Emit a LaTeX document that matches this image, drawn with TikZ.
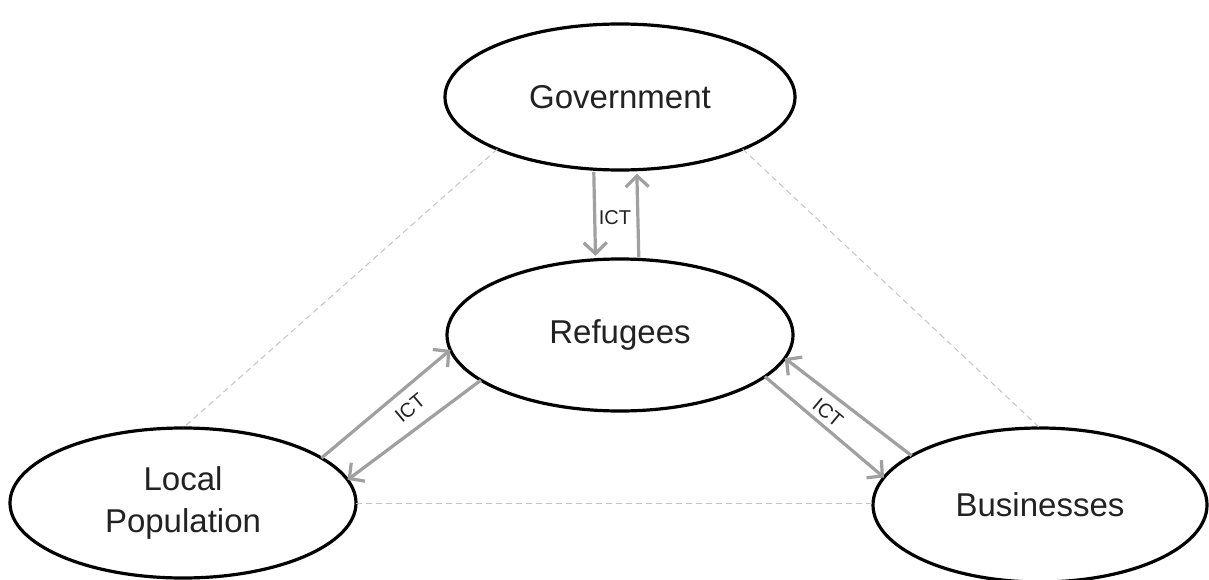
\documentclass[tikz,border=0pt]{standalone}
\usepackage{fontspec}
\setmainfont{Liberation Sans}
\usetikzlibrary{shapes.geometric,arrows.meta}
\definecolor{arrgray}{HTML}{A0A0A0}
\definecolor{dashgray}{HTML}{C4C4C4}
\definecolor{txt}{HTML}{222222}
\begin{document}
\begin{tikzpicture}[x=1pt,y=1pt,
  actor/.style={ellipse, draw=black, line width=3.2pt, inner sep=0pt, outer sep=0pt,
     text=txt, font=\fontsize{33}{42}\selectfont, align=center},
  ictarrow/.style={draw=arrgray, line width=3.2pt, -{Straight Barb[length=11pt,width=23pt]}},
  tri/.style={draw=dashgray, line width=1pt, dash pattern=on 6pt off 4pt},
  ictlabel/.style={text=txt, font=\fontsize{20}{24}\selectfont, inner sep=0pt}]
\useasboundingbox (0,0) rectangle (1209,579);
\fill[white] (0,0) rectangle (1209,579);

\node[actor, minimum width=350pt, minimum height=146pt] (gov) at (620,482) {Government};
\node[actor, minimum width=346pt, minimum height=152pt] (ref) at (620,244) {Refugees};
\node[actor, minimum width=346pt, minimum height=150pt] (loc) at (183,76) {Local\\Population};
\node[actor, minimum width=334pt, minimum height=154pt] (bus) at (1040,74) {Businesses};

% dashed triangle
\draw[tri] (gov.203.8) -- (loc.north);
\draw[tri] (gov.-23.3) -- (bus.north);
\draw[tri] (loc.east) -- (loc.east -| bus.west);

% Government <-> Refugees
\draw[ictarrow, shorten <=3pt, shorten >=4pt] (gov.250.4) -- (ref.108.6);
\draw[ictarrow, shorten <=2pt, shorten >=4pt] (ref.76.1) -- (gov.283.4);
\node[ictlabel] (ict1) at (615,361) {ICT};

% Local <-> Refugees
\draw[ictarrow] (loc.18.3) -- (ref.185.9);
\draw[ictarrow] (ref.198.3) -- (loc.8.4);
\node[ictlabel, rotate=40] (ict2) at (410,171) {ICT};

% Refugees <-> Businesses
\draw[ictarrow] (bus.159.95) -- (ref.-8.2);
\draw[ictarrow] (ref.-16.5) -- (bus.170.4);
\node[ictlabel, rotate=-40] (ict3) at (828,166) {ICT};
\end{tikzpicture}
\end{document}
